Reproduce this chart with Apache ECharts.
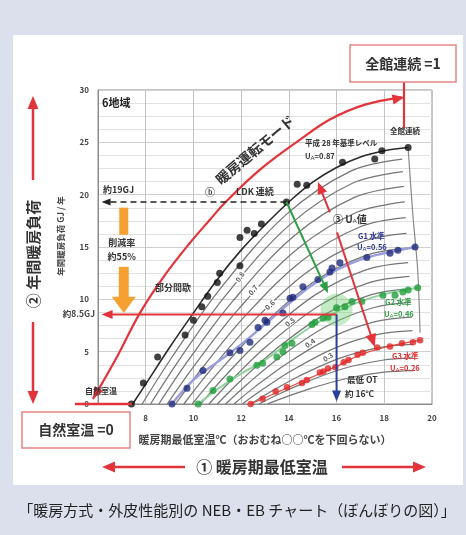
<!DOCTYPE html>
<html><head><meta charset="utf-8">
<script src="https://cdn.jsdelivr.net/npm/echarts/dist/echarts.min.js"></script>
<style>
html,body{margin:0;padding:0;background:#dce0ed;}
#chart{width:466px;height:535px;}
</style></head><body><div id="chart"></div>
<script>
// NEB・EB chart (6地域): heating load vs. lowest room temperature in the heating season

const xTickLabels = [8, 10, 12, 14, 16, 18, 20];
const yTickLabels = [0, 5, 10, 15, 20, 25, 30];

// 平成28年基準レベル (UA=0.87) curve and its measured points
const baseCurve = [[7.45,0],[8,1.9],[9,5.4],[10,8.7],[11,11.9],[12,14.7],[13,17.1],[14,19.3],[15,21.2],[16,22.6],[17,23.6],[18,24.2],[19,24.5]];
const basePts = [[7.4,0],[7.9,2.0],[8.5,4.5],[9.65,6.6],[10.0,8.0],[10.35,9.3],[10.6,10.3],[11.0,11.6],[11.1,12.5],[11.95,13.2],[11.95,15.9],[12.25,16.6],[12.55,16.3],[12.85,17.2],[13.9,19.3],[14.35,21.0],[14.75,20.9],[16.25,23.1],[17.6,23.4],[17.9,24.2],[19.0,24.5]];

// G1 水準 (UA=0.56)
const g1Line = [[9.1,0],[10,2.3],[11,4.0],[12,5.7],[13,7.6],[14,9.6],[15,11.4],[16,12.8],[17,13.8],[18,14.4],[19.3,15.0]];
const g1Pts = [[9.1,0],[9.73,1.5],[10.4,3.2],[11.53,4.9],[11.95,5.1],[12.37,5.9],[12.71,7.3],[13.0,8.0],[13.08,7.8],[13.75,8.7],[14.05,10.1],[14.17,10.2],[14.59,11.2],[15.22,11.9],[15.72,12.6],[15.81,13.0],[16.14,13.5],[17.27,14.0],[18.24,14.4],[18.57,14.7],[19.29,15.0]];

// G2 水準 (UA=0.46)
const g2Line = [[10.2,0],[11,1.4],[12,2.9],[13,4.2],[14,5.9],[15,7.5],[16,8.8],[17,9.8],[18,10.5],[19.4,11.1]];
const g2Pts = [[10.2,0],[10.82,1.3],[11.53,2.4],[12.66,3.7],[12.9,3.9],[13.5,4.5],[13.75,5.0],[13.84,5.6],[14.13,5.8],[14.97,7.6],[15.1,7.8],[15.43,8.2],[15.64,8.3],[16.0,9.2],[16.35,9.3],[16.65,9.8],[17.06,9.8],[17.94,10.4],[18.45,10.4],[18.78,10.7],[19.0,10.9],[19.4,11.1]];

// G3 水準 (UA=0.26)
const g3Line = [[12.4,0],[13,0.6],[14,1.6],[15,2.6],[16,3.6],[17,4.7],[18,5.4],[19.5,6.1]];
const g3Pts = [[12.4,0],[12.9,0.5],[13.45,1.2],[13.92,1.6],[14.55,2.0],[14.75,2.3],[15.3,3.0],[15.45,3.1],[15.64,3.4],[15.95,3.5],[16.3,4.0],[16.5,4.2],[16.88,4.7],[17.1,4.9],[17.7,5.4],[18.24,5.5],[18.74,5.8],[19.2,5.9],[19.5,6.1]];

// family of heating-ratio curves
const fanCurves = [
 [[7.85,0],[9.16,4.68],[11.12,11.0],[13.85,18.02],[16.57,22.23],[18.75,23.4]],
 [[8.2,0],[9.47,4.44],[11.37,10.43],[14.02,17.09],[16.66,21.09],[18.78,22.2]],
 [[8.55,0],[9.78,4.16],[11.63,9.78],[14.2,16.02],[16.77,19.76],[18.82,20.8]],
 [[8.9,0],[10.1,3.86],[11.89,9.07],[14.38,14.86],[16.87,18.34],[18.86,19.3]],
 [[9.25,0],[10.41,3.56],[12.15,8.37],[14.56,13.71],[16.97,16.91],[18.9,17.8]],
 [[9.6,0],[10.72,3.26],[12.4,7.66],[14.73,12.55],[17.06,15.49],[18.93,16.3]],
 [[9.95,0],[11.03,2.98],[12.66,7.0],[14.91,11.47],[17.17,14.16],[18.97,14.9]],
 [[10.3,0],[11.34,2.7],[12.91,6.35],[15.09,10.4],[17.26,12.83],[19.0,13.5]],
 [[10.65,0],[11.66,2.44],[13.17,5.73],[15.27,9.39],[17.37,11.59],[19.05,12.2]],
 [[11.0,0],[11.97,2.2],[13.42,5.17],[15.44,8.47],[17.46,10.45],[19.08,11.0]],
 [[11.35,0],[12.28,1.94],[13.68,4.56],[15.62,7.47],[17.57,9.22],[19.12,9.7]],
 [[11.7,0],[12.59,1.66],[13.94,3.9],[15.8,6.39],[17.66,7.89],[19.15,8.3]],
 [[12.05,0],[12.91,1.4],[14.19,3.29],[15.97,5.39],[17.75,6.65],[19.18,7.0]],
 [[12.4,0],[13.22,1.14],[14.44,2.68],[16.14,4.39],[17.84,5.42],[19.2,5.7]],
 [[12.75,0],[13.52,0.88],[14.69,2.07],[16.3,3.39],[17.91,4.18],[19.2,4.4]],
 [[13.1,0],[13.83,0.64],[14.93,1.5],[16.46,2.46],[17.98,3.04],[19.2,3.2]]
];
const boundaryCurve = [[19.0,24.4],[19.2,18.0],[19.4,12.8],[19.5,6.8]];
const ratioLabels = ['0.8','0.7','0.6','0.5','0.4','0.3'];

// annotated values
const ldkLoad = 19.3, ldkTemp = 13.9;     // ⓑ LDK連続, 約19GJ
const targetLoad = 8.55, targetTemp = 16; // 約8.5GJ, 最低OT 約16℃
const modeCurve = [[5.79,0.48],[6.84,4.69],[7.76,8.71],[8.81,12.34],[9.86,15.41],[10.69,17.6],[11.32,19.23],[12.79,22.39],[14.47,25.26],[15.72,27.18],[17.19,28.6],[18.72,29.3]];

const JP = '"Noto Sans CJK JP","Noto Sans",sans-serif';
const chart = echarts.init(document.getElementById('chart'), null, {renderer:'canvas'});

const series = [];
fanCurves.forEach(c => series.push({type:'line', data:c, smooth:0.35, showSymbol:false, silent:true, z:2,
  lineStyle:{color:'#767676', width:1.25}}));
series.push({type:'line', data:boundaryCurve, smooth:0.3, showSymbol:false, silent:true, z:2, lineStyle:{color:'#8a8a8a', width:1.2}});
series.push({type:'line', data:baseCurve, smooth:0.4, showSymbol:false, silent:true, z:3, lineStyle:{color:'#2a2a2a', width:1.6}});
series.push({type:'line', data:g1Line, smooth:0.4, showSymbol:false, silent:true, z:3, lineStyle:{color:'#9a9edc', width:2.4}});
series.push({type:'line', data:g2Line, smooth:0.4, showSymbol:false, silent:true, z:3, lineStyle:{color:'#8fd29c', width:2}});
series.push({type:'line', data:g3Line, smooth:0.4, showSymbol:false, silent:true, z:3, lineStyle:{color:'#e6443c', width:1.2}});
series.push({type:'scatter', data:[[targetTemp, 9.0]], symbolSize:32, silent:true, z:3, itemStyle:{color:'rgba(110,205,110,0.5)'}});
series.push({type:'scatter', data:basePts, symbolSize:7, z:5, itemStyle:{color:'#111'}});
series.push({type:'scatter', data:g1Pts, symbolSize:7, z:5, itemStyle:{color:'#1f2a7c'}});
series.push({type:'scatter', data:g2Pts, symbolSize:7, z:5, itemStyle:{color:'#1f9e3a'}});
series.push({type:'scatter', data:g3Pts, symbolSize:6.5, z:5, itemStyle:{color:'#e02626'}});

chart.setOption({
  backgroundColor:'#dce0ed',
  animation:false,
  grid:{left:98, top:90, width:334, height:314, show:true, borderColor:'#8c8c8c', borderWidth:1, backgroundColor:'#fff'},
  xAxis:{type:'value', min:6, max:20, interval:2,
    axisLine:{show:true, lineStyle:{color:'#8c8c8c'}}, axisTick:{show:false},
    axisLabel:{margin:10, fontSize:8, color:'#444', fontWeight:'bold', fontFamily:JP,
      formatter:v => xTickLabels.indexOf(v) >= 0 ? String(v) : ''},
    splitLine:{show:true, lineStyle:{color:'#c4c4c4', width:1}}},
  yAxis:{type:'value', min:0, max:30, interval:5,
    axisLine:{show:true, lineStyle:{color:'#8c8c8c'}}, axisTick:{show:false},
    axisLabel:{margin:9, fontSize:8, color:'#444', fontWeight:'bold', fontFamily:JP,
      formatter:v => yTickLabels.indexOf(v) >= 0 ? String(v) : ''},
    splitLine:{show:true, lineStyle:{color:'#d0d0d0'}},
    minorTick:{show:false, splitNumber:4},
    minorSplitLine:{show:true, lineStyle:{color:'#e2e2e2'}}},
  series:series
});

// ---------- annotations ----------
const P = (x, y) => chart.convertToPixel({xAxisIndex:0, yAxisIndex:0}, [x, y]);
const G = [];
const RED = '#e2343a';

function arrow(p0, p1, color, w, len, wid, dash, z){
  const dx = p1[0]-p0[0], dy = p1[1]-p0[1], L = Math.hypot(dx, dy);
  const ux = dx/L, uy = dy/L, nx = -uy, ny = ux;
  const bx = p1[0]-ux*len, by = p1[1]-uy*len;
  G.push({type:'line', z:z||20, shape:{x1:p0[0], y1:p0[1], x2:bx+ux*2, y2:by+uy*2},
    style:{stroke:color, lineWidth:w, lineDash:dash||null}});
  G.push({type:'polygon', z:z||20, shape:{points:[[p1[0],p1[1]],[bx+nx*wid/2, by+ny*wid/2],[bx-nx*wid/2, by-ny*wid/2]]},
    style:{fill:color}});
}
function head(tip, from, color, len, wid, z){
  const dx = tip[0]-from[0], dy = tip[1]-from[1], L = Math.hypot(dx, dy);
  const ux = dx/L, uy = dy/L, nx = -uy, ny = ux;
  const bx = tip[0]-ux*len, by = tip[1]-uy*len;
  G.push({type:'polygon', z:z||20, shape:{points:[[tip[0],tip[1]],[bx+nx*wid/2, by+ny*wid/2],[bx-nx*wid/2, by-ny*wid/2]]},
    style:{fill:color}});
}
function txt(s, x, y, font, color, align, extra){
  const t = {type:'text', z:30, x:x, y:y, style:Object.assign({text:s, font:font, fill:color, align:align||'left', verticalAlign:'middle'}, extra && extra.style || {})};
  if (extra && extra.rotation !== undefined) t.rotation = extra.rotation;
  G.push(t);
}
const sub = {s:{fontSize:6, verticalAlign:'bottom', padding:[4,0,0,0]}};

// white panel behind the chart
G.push({type:'rect', z:-10, shape:{x:13, y:35, width:450, height:450}, style:{fill:'#fff'}});

// boxes: 全館連続 =1 / 自然室温 =0
G.push({type:'rect', z:25, shape:{x:350, y:45, width:106, height:37}, style:{fill:'#fff', stroke:'#e58585', lineWidth:1.5}});
txt('全館連続 =1', 403, 64, 'bold 14px '+JP, '#333', 'center');
G.push({type:'rect', z:25, shape:{x:22, y:412, width:108, height:36}, style:{fill:'#fff', stroke:'#e58585', lineWidth:1.5}});
txt('自然室温 =0', 76, 430, 'bold 14px '+JP, '#333', 'center');
G.push({type:'line', z:24, shape:{x1:75, y1:404, x2:132, y2:404}, style:{stroke:RED, lineWidth:2.5}});

// left: ② 年間暖房負荷
txt('② 年間暖房負荷', 33, 254, 'bold 15px '+JP, '#333', 'center', {rotation:Math.PI/2});
arrow([33,180],[33,96], RED, 2.5, 13, 11);
arrow([33,322],[33,404], RED, 2.5, 13, 11);
txt('年間暖房負荷 GJ / 年', 61, 236, 'bold 8.5px '+JP, '#444', 'center', {rotation:Math.PI/2});

// bottom: ① 暖房期最低室温
txt('① 暖房期最低室温', 262, 467, 'bold 16px '+JP, '#333', 'center');
arrow([185,467],[102,467], RED, 2.5, 13, 11);
arrow([342,467],[426,467], RED, 2.5, 13, 11);
txt('暖房期最低室温℃（おおむね○○℃を下回らない）', 265, 440, 'bold 11px '+JP, '#444', 'center');

// caption
txt('「暖房方式・外皮性能別の NEB・EB チャート（ぼんぼりの図）」', 237, 510, '15px '+JP, '#222', 'center');

// in-plot labels
txt('6地域', 102, 103, 'bold 11px '+JP, '#222', 'left');

// heating-mode curve (自然室温 → 全館連続)
const mc = modeCurve.map(p => P(p[0], p[1]));
G.push({type:'polyline', z:18, shape:{points:mc.slice(0), smooth:0.35}, style:{stroke:RED, lineWidth:2.2, fill:null}});
head(mc[0], mc[1], RED, 12, 10, 19);
head([mc[mc.length-1][0]+3, mc[mc.length-1][1]], mc[mc.length-2], RED, 12, 10, 19);
txt('暖房運転モード', 255, 150, 'bold 14px '+JP, '#333', 'center', {rotation:40*Math.PI/180});
G.push({type:'line', z:18, shape:{x1:404, y1:82, x2:404, y2:128}, style:{stroke:RED, lineWidth:2.2}});

// ⓑ LDK連続 → 約19GJ
const ldk = P(ldkTemp, ldkLoad);
arrow(ldk, P(6.15, ldkLoad), '#222', 1.5, 9, 7, [6,4]);
txt('約19GJ', 103, 190, 'bold 9px '+JP, '#333', 'left');
txt('ⓑ', 210, 192, 'bold 10px '+JP, '#444', 'center');
txt('LDK 連続', 236, 192, 'bold 9px '+JP, '#333', 'left');

// 削減率 約55%
const ox = 7.08;
const ob1 = P(ox, 18.76), ob2 = P(ox, 16.17);
G.push({type:'rect', z:20, shape:{x:ob1[0]-4.5, y:ob1[1], width:9, height:ob2[1]-ob1[1]}, style:{fill:'#f5a030'}});
txt('削減率', ob1[0]-2, P(ox,15.4)[1], 'bold 9px '+JP, '#333', 'center');
txt('約55%', ob1[0]-2, P(ox,14.07)[1], 'bold 9px '+JP, '#333', 'center');
const oa1 = P(ox, 13.1), oa2 = P(ox, 10.24), oa3 = P(ox, 8.7);
G.push({type:'rect', z:20, shape:{x:oa1[0]-5, y:oa1[1], width:10, height:oa2[1]-oa1[1]+1}, style:{fill:'#f5a030'}});
G.push({type:'polygon', z:20, shape:{points:[[oa2[0]-12, oa2[1]],[oa2[0]+12, oa2[1]],[oa3[0], oa3[1]]]}, style:{fill:'#f5a030'}});

txt('部分間歇', 155, 288, 'bold 9px '+JP, '#333', 'left');
txt('自然室温', 101, 391, 'bold 8px '+JP, '#333', 'center');

// 約8.5GJ / 最低OT 約16℃
const tgt = P(targetTemp, targetLoad);
arrow(tgt, P(6.15, targetLoad), RED, 2, 11, 9);
txt('約8.5GJ', 95, 314, 'bold 8.5px '+JP, '#444', 'right');
arrow(tgt, P(targetTemp, 0.25), '#2a3f9c', 2, 11, 9);
txt('最低 OT', 347, 380, 'bold 8.5px '+JP, '#333', 'left');
txt('約 16℃', 345, 394, 'bold 8.5px '+JP, '#333', 'left');

// green: LDK連続 → target
arrow(ldk, P(15.64, 10.6), '#2e9e44', 2, 11, 9);

// ③ UA値 arrows
arrow(P(16.02, 16.4), P(17.6, 5.45), RED, 2, 13, 11);
arrow(P(15.72, 18.3), P(15.22, 21.2), RED, 2, 12, 10);
txt('③ U{s|A}値', 333, 219, 'bold 10px '+JP, '#333', 'left', {style:{rich:sub}});

// level labels
txt('平成 28 年基準レベル', 305, 143, 'bold 7.5px '+JP, '#333', 'left');
txt('U{s|A}=0.87', 305, 156, 'bold 7.5px '+JP, '#333', 'left', {style:{rich:sub}});
txt('全館連続', 390, 131, 'bold 7.5px '+JP, '#333', 'left');
txt('G1 水準', 358, 236, 'bold 7.5px '+JP, '#2a3590', 'left');
txt('U{s|A}=0.56', 357, 247, 'bold 7.5px '+JP, '#2a3590', 'left', {style:{rich:sub}});
txt('G2 水準', 385, 302, 'bold 7.5px '+JP, '#2e9e44', 'left');
txt('U{s|A}=0.46', 384, 314, 'bold 7.5px '+JP, '#2e9e44', 'left', {style:{rich:sub}});
txt('G3 水準', 392, 356, 'bold 7.5px '+JP, '#e02a2a', 'left');
txt('U{s|A}=0.26', 390, 368, 'bold 7.5px '+JP, '#e02a2a', 'left', {style:{rich:sub}});

// ratio labels on the curve family
const ratioPos = [[240,277,55],[253,290,50],[270,305,42],[290,322,38],[310,343,35],[328,357,32]];
ratioLabels.forEach((s, i) => {
  const p = ratioPos[i];
  txt(s, p[0], p[1], 'bold 7px '+JP, '#555', 'center', {rotation:p[2]*Math.PI/180, style:{backgroundColor:'#fff', padding:[0,1]}});
});

chart.setOption({graphic:G});
</script></body></html>
